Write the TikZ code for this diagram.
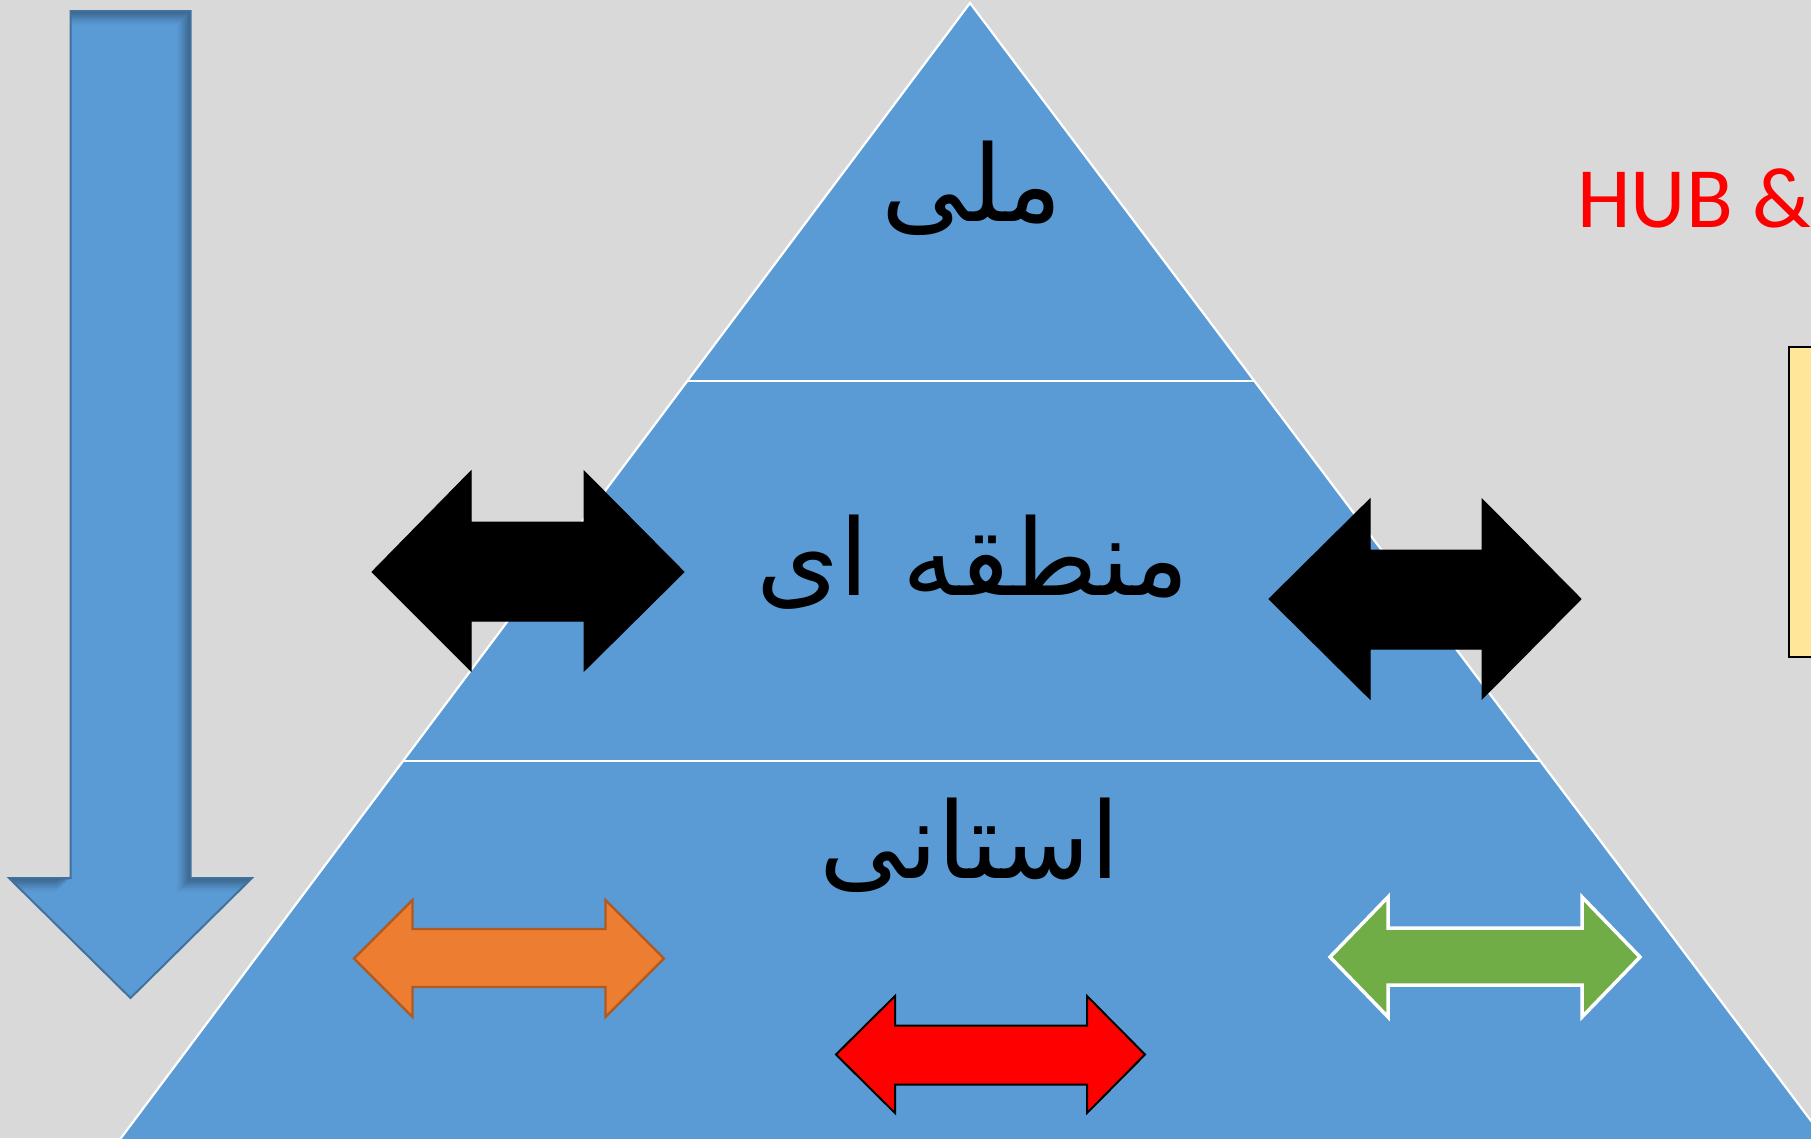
\documentclass[tikz,border=0pt]{standalone}
\usepackage{fontspec}
\newfontfamily\arabicfont[Script=Arabic]{DejaVu Sans}
\newfontfamily\hubfont{Carlito}
\TeXXeTstate=1
\definecolor{bgc}{HTML}{D9D9D9}
\definecolor{triblue}{HTML}{5B9BD5}
\definecolor{arrowedge}{HTML}{41719C}
\definecolor{orangef}{HTML}{ED7D31}
\definecolor{oranged}{HTML}{AE5A21}
\definecolor{greenf}{HTML}{70AD47}
\definecolor{yellowf}{HTML}{FFE699}
\definecolor{shadowc}{HTML}{2F5070}
\tikzset{
  tier/.style={draw=white, line width=2.2pt},
  arlabel/.style={font=\arabicfont\fontsize{106}{120}\selectfont, text=black, inner sep=0pt},
  blackarrow/.style={fill=black, draw=black, line width=1pt, line join=miter},
  orangearrow/.style={fill=orangef, draw=oranged, line width=2.2pt},
  redarrow/.style={fill=red, draw=black, line width=2pt},
  greenarrow/.style={fill=greenf, draw=white, line width=3.5pt},
}
\begin{document}
\begin{tikzpicture}[x=1pt,y=-1pt]
\clip (0,0) rectangle (1811,1138);
\fill[bgc] (0,0) rectangle (1811,1138);
% pyramid
\fill[triblue] (970,3) -- (1833,1150) -- (112,1150) -- cycle;
\draw[tier] (112,1150) -- (970,3) -- (1833,1150);
\draw[tier] (687,381) -- (1254,381);
\draw[tier] (403,761) -- (1540,761);
% yellow box (cut off at right)
\draw[fill=yellowf, draw=black, line width=2pt] (1789,347) rectangle (1830,657);
% HUB text
\node[anchor=base west, inner sep=0pt, text=red, font=\hubfont\fontsize{86}{100}\selectfont] (hub) at (1577,227) {HUB \&};
% down arrow with inner shadow
\def\downarrowpath{(70.5,11) -- (190.5,11) -- (190.5,878) -- (252,878) -- (130.5,998) -- (9,878) -- (70.5,878) -- cycle}
\fill[triblue] \downarrowpath;
\begin{scope}
  \clip \downarrowpath;
  \foreach \d/\o in {2/0.22,4/0.2,6/0.17,8/0.14,10/0.11,12/0.08,14/0.05} {
    \fill[shadowc, opacity=\o, even odd rule] (-50,-50) rectangle (400,1100) [shift={(-\d,\d)}] \downarrowpath;
  }
\end{scope}
\draw[arrowedge, line width=2pt, line join=miter] \downarrowpath;
% tier labels
\node[arlabel] (melli) at (972,188) {\beginR ملی\endR};
\node[arlabel] (mantaghe) at (973,562) {\beginR منطقه ای\endR};
\node[arlabel] (ostani) at (970,845) {\beginR استانی\endR};
% black double arrows
\draw[blackarrow] (372,572) -- (471,471) -- (471,522) -- (584,522) -- (584,471) -- (684,572) -- (584,671) -- (584,621) -- (471,621) -- (471,671) -- cycle;
\draw[blackarrow] (1269,599) -- (1370,499) -- (1370,550) -- (1482,550) -- (1482,499) -- (1581,599) -- (1482,699) -- (1482,649) -- (1370,649) -- (1370,699) -- cycle;
% orange
\draw[orangearrow] (354,958.5) -- (412.5,900) -- (412.5,929) -- (605.5,929) -- (605.5,900) -- (664,958.5) -- (605.5,1017) -- (605.5,987) -- (412.5,987) -- (412.5,1017) -- cycle;
% red
\draw[redarrow] (836,1054.5) -- (895,996) -- (895,1025.6) -- (1087,1025.6) -- (1087,996) -- (1145,1054.5) -- (1087,1113) -- (1087,1084.5) -- (895,1084.5) -- (895,1113) -- cycle;
% green
\draw[greenarrow] (1330,957) -- (1388,897) -- (1388,928) -- (1582,928) -- (1582,897) -- (1640,957) -- (1582,1017) -- (1582,985) -- (1388,985) -- (1388,1017) -- cycle;
\end{tikzpicture}
\end{document}
